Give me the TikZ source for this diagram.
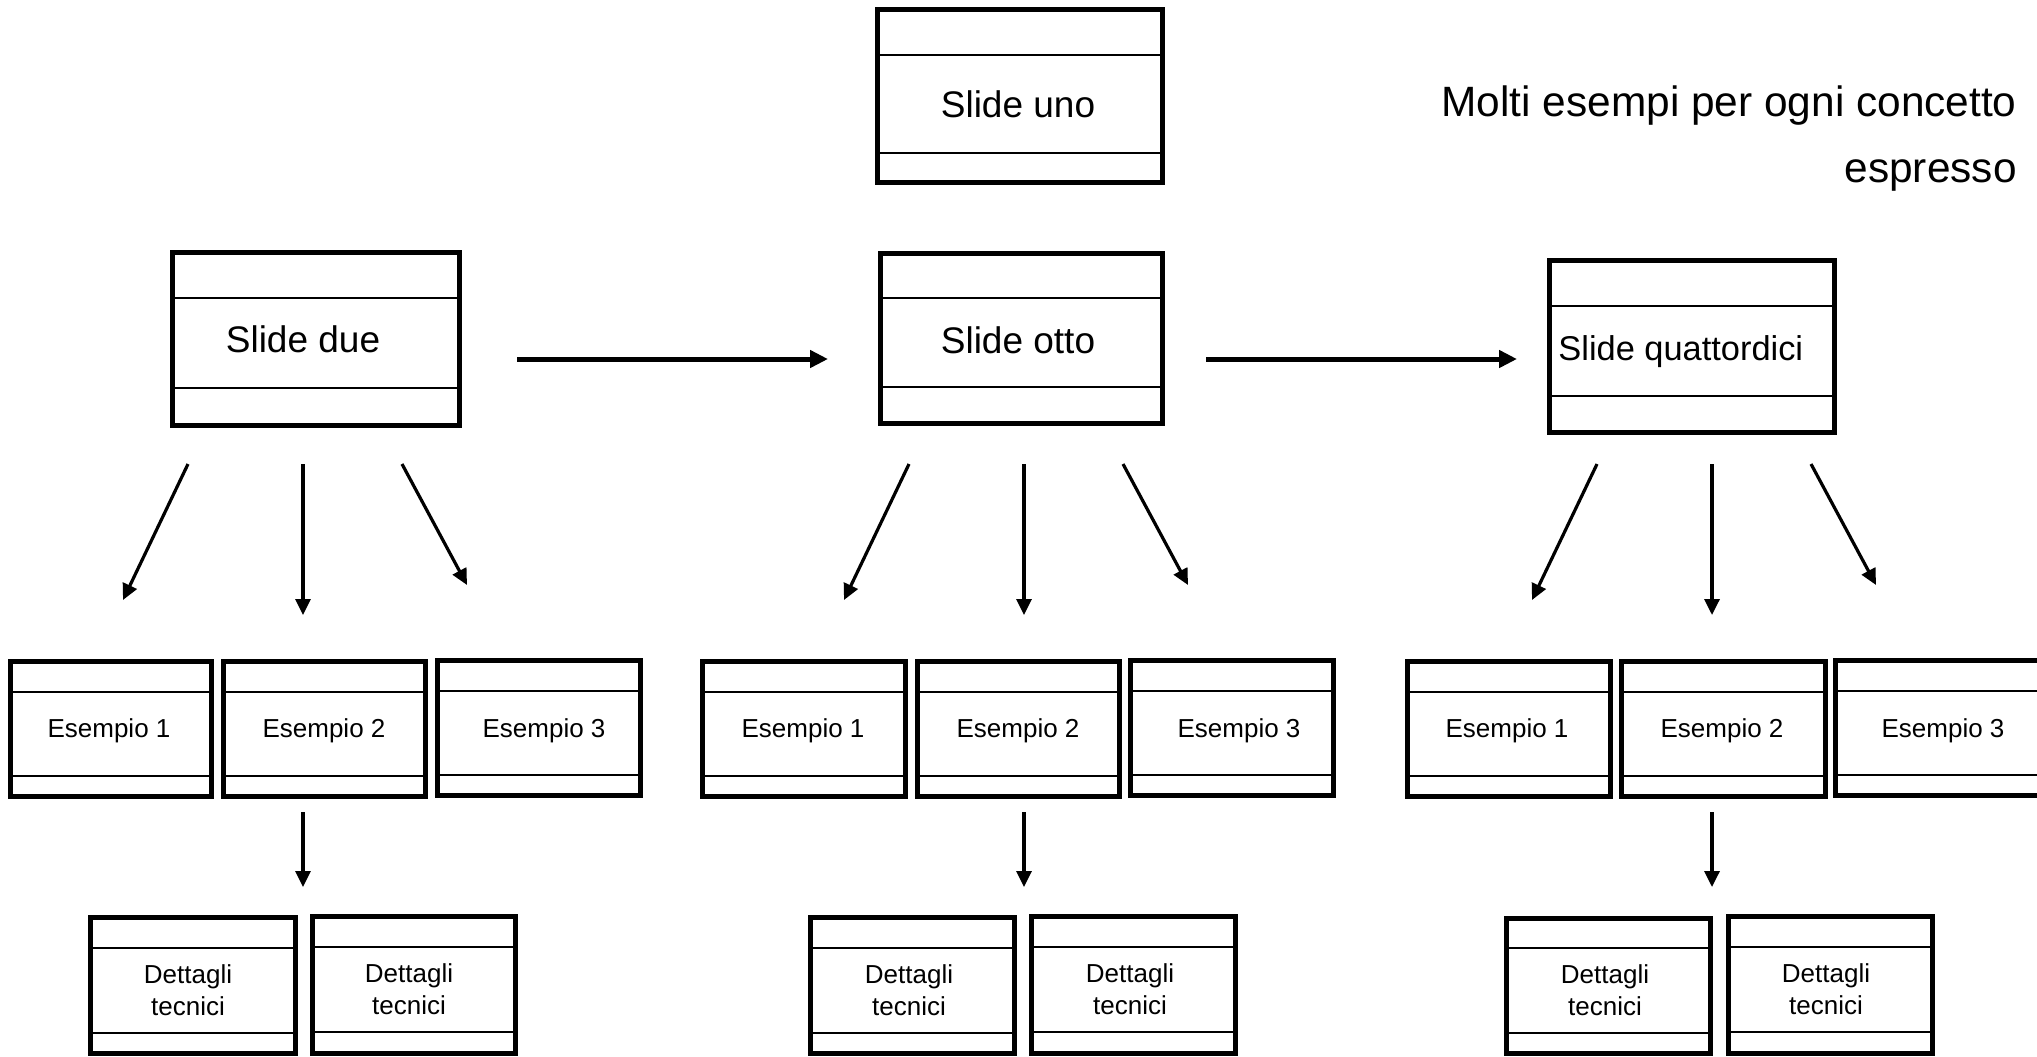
\documentclass[tikz,border=0pt]{standalone}
\usepackage{fontspec}
\setmainfont{Liberation Sans}
\usetikzlibrary{arrows.meta}
\tikzset{
  boxst/.style={draw, line width=2.5pt, inner sep=0pt, outer sep=0pt},
  innerline/.style={line width=0.85pt},
  thinarr/.style={line width=1.6pt, -{Triangle[length=8pt,width=7.5pt]}},
  thickarr/.style={line width=2.5pt, -{Triangle[length=9pt,width=8.5pt]}},
  bigtxt/.style={font=\fontsize{18.5}{22}\selectfont, anchor=base, inner sep=0pt},
  midtxt/.style={font=\fontsize{17.2}{20}\selectfont, anchor=base west, inner sep=0pt},
  smalltxt/.style={font=\fontsize{13}{16}\selectfont, anchor=base, inner sep=0pt},
  dettxt/.style={font=\fontsize{13}{16}\selectfont, align=center, anchor=center, inner sep=0pt},
  notetxt/.style={font=\fontsize{21.2}{33}\selectfont, align=right, anchor=north east, inner sep=0pt},
}
% name, x1, y1, x2, y2 (outer edges, px), inner line 1, inner line 2
\newcommand{\slidebx}[7]{%
  \pgfmathsetmacro\bxw{(#4-#2-5)*0.5}%
  \pgfmathsetmacro\bxh{(#5-#3-5)*0.5}%
  \node[boxst, minimum width=\bxw pt, minimum height=\bxh pt] (#1) at ({(#2+#4)/2},{(#3+#5)/2}) {};
  \draw[innerline] (#1.west |- 0,#6) -- (#1.east |- 0,#6);
  \draw[innerline] (#1.west |- 0,#7) -- (#1.east |- 0,#7);
}
% name, x1, y1, x2, y2, style
\newcommand{\arr}[6]{%
  \coordinate (#1s) at (#2,#3);
  \coordinate (#1e) at (#4,#5);
  \draw[#6] (#1s) -- (#1e);
}
\begin{document}
\begin{tikzpicture}[x=0.5pt,y=-0.5pt]
\useasboundingbox (0,0) rectangle (2037,1056);
\clip (0,0) rectangle (2037,1056);

% top level
\slidebx{uno}{875}{7}{1165}{185}{55}{153}
\node[bigtxt] (unot) at (1018,117) {Slide uno};

\slidebx{due}{170}{250}{462}{428}{298}{388}
\node[bigtxt] (duet) at (303,352) {Slide due};

\slidebx{otto}{878}{251}{1165}{426}{298}{387}
\node[bigtxt] (ottot) at (1018,353) {Slide otto};

\slidebx{quat}{1547}{258}{1837}{435}{306}{396}
\node[midtxt] (quatt) at (1558,360) {Slide quattordici};

\node[notetxt] (note) at (2017,85) {Molti esempi per ogni concetto\\espresso};

% esempi
\slidebx{ea1}{8}{659}{214}{799}{692}{776}
\slidebx{ea2}{221}{659}{428}{799}{692}{776}
\slidebx{ea3}{435}{658}{643}{798}{691}{775}
\node[smalltxt] (ea1t) at (109,737) {Esempio 1};
\node[smalltxt] (ea2t) at (324,737) {Esempio 2};
\node[smalltxt] (ea3t) at (544,737) {Esempio 3};

\slidebx{eb1}{700}{659}{908}{799}{692}{776}
\slidebx{eb2}{915}{659}{1122}{799}{692}{776}
\slidebx{eb3}{1128}{658}{1336}{798}{691}{775}
\node[smalltxt] (eb1t) at (803,737) {Esempio 1};
\node[smalltxt] (eb2t) at (1018,737) {Esempio 2};
\node[smalltxt] (eb3t) at (1239,737) {Esempio 3};

\slidebx{ec1}{1405}{659}{1613}{799}{692}{776}
\slidebx{ec2}{1619}{659}{1828}{799}{692}{776}
\slidebx{ec3}{1833}{658}{2045}{798}{691}{775}
\node[smalltxt] (ec1t) at (1507,737) {Esempio 1};
\node[smalltxt] (ec2t) at (1722,737) {Esempio 2};
\node[smalltxt] (ec3t) at (1943,737) {Esempio 3};

% dettagli
\slidebx{da1}{88}{915}{298}{1056}{948}{1033}
\slidebx{da2}{310}{914}{518}{1056}{947}{1032}
\node[dettxt] (da1t) at (188,990) {Dettagli\\tecnici};
\node[dettxt] (da2t) at (409,989) {Dettagli\\tecnici};

\slidebx{db1}{808}{915}{1017}{1056}{948}{1033}
\slidebx{db2}{1029}{914}{1238}{1056}{947}{1032}
\node[dettxt] (db1t) at (909,990) {Dettagli\\tecnici};
\node[dettxt] (db2t) at (1130,989) {Dettagli\\tecnici};

\slidebx{dc1}{1504}{916}{1713}{1056}{948}{1033}
\slidebx{dc2}{1726}{914}{1935}{1056}{947}{1032}
\node[dettxt] (dc1t) at (1605,990) {Dettagli\\tecnici};
\node[dettxt] (dc2t) at (1826,989) {Dettagli\\tecnici};

% horizontal arrows
\arr{h1}{517}{359}{828}{359}{thickarr}
\arr{h2}{1206}{359}{1517}{359}{thickarr}

% fan arrows
\arr{fa1}{188}{464}{123}{600}{thinarr}
\arr{fa2}{303}{464}{303}{615}{thinarr}
\arr{fa3}{402}{464}{467}{585}{thinarr}
\arr{fb1}{909}{464}{844}{600}{thinarr}
\arr{fb2}{1024}{464}{1024}{615}{thinarr}
\arr{fb3}{1123}{464}{1188}{585}{thinarr}
\arr{fc1}{1597}{464}{1532}{600}{thinarr}
\arr{fc2}{1712}{464}{1712}{615}{thinarr}
\arr{fc3}{1811}{464}{1876}{585}{thinarr}

% down arrows
\arr{da}{303}{812}{303}{887}{thinarr}
\arr{db}{1024}{812}{1024}{887}{thinarr}
\arr{dc}{1712}{812}{1712}{887}{thinarr}
\end{tikzpicture}
\end{document}
